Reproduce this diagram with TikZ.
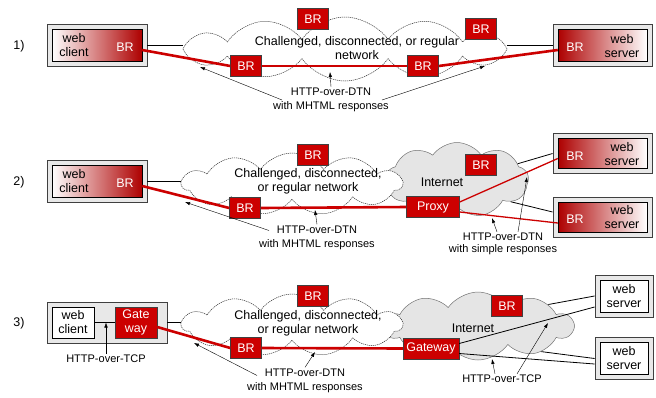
\documentclass[tikz,border=0pt]{standalone}
\usepackage{fontspec}
\setmainfont{Liberation Sans}
\usetikzlibrary{shapes.symbols,arrows.meta}
\definecolor{brred}{RGB}{204,0,0}

\begin{document}
\begin{tikzpicture}[x=1pt,y=-1pt,
	br/.style={draw=black!75,fill=brred,text=white,inner sep=0,minimum width=31pt,minimum height=21pt,font=\fontsize{12.5}{13}\selectfont},
	outbox/.style={draw=black!75,fill=black!9,line width=0.9pt,inner sep=0},
	gradc/.style={draw=black,left color=white,right color=brred!85!black,inner sep=0,minimum width=90pt,minimum height=32pt},
	grads/.style={draw=black,left color=brred!85!black,right color=white,inner sep=0,minimum width=89pt,minimum height=32pt},
	plain/.style={draw=black,fill=white,inner sep=0,minimum width=48pt,minimum height=32pt},
	net/.style={cloud,cloud puffs=11,cloud puff arc=110,cloud ignores aspect,draw=black!80,fill=white,dash pattern=on 1.2pt off 0.8pt,line width=0.5pt,inner sep=0},
	inet/.style={cloud,cloud puffs=9,cloud puff arc=110,cloud ignores aspect,draw=black!55,fill=black!10,line width=0.5pt,inner sep=0},
	big/.style={font=\fontsize{12.5}{14}\selectfont,inner sep=0},
	lbl/.style={align=center,font=\fontsize{11}{14}\selectfont,inner sep=1pt},
	dtn/.style={brred,line width=2.6pt},
	http/.style={brred,line width=1.3pt},
	link/.style={black,line width=0.8pt},
	arr/.style={-{Latex[length=5pt,width=3.5pt]},line width=0.4pt}]
	\useasboundingbox (0,0) rectangle (656,397);

	% 1) BR at both ends
	\node[big] (r1) at (19,46) {1)};
	\node[net,cloud puffs=12,minimum width=324pt,minimum height=64pt] (n1) at (345,49) {};
	\node[big,align=center] (n1t) at (357,48) {Challenged, disconnected, or regular\\network};
	\node[outbox,minimum width=100pt,minimum height=42pt] (c1o) at (97,45) {};
	\node[gradc] (c1) at (97,45) {};
	\node[big,align=center] (c1t) at (74,45) {web\\client};
	\node[big,text=white] (c1b) at (125,47) {BR};
	\node[outbox,minimum width=99pt,minimum height=42pt] (s1o) at (602.5,45) {};
	\node[grads] (s1) at (602.5,45.5) {};
	\node[big,align=center] (s1t) at (622,46) {web\\server};
	\node[big,text=white] (s1b) at (575,47) {BR};
	\node[br] (b1a) at (313,19) {BR};
	\node[br] (b1b) at (481,29) {BR};
	\node[br] (b1c) at (246,66) {BR};
	\node[br] (b1d) at (423,66) {BR};
	\node[lbl] (l1) at (331,100) {HTTP-over-DTN\\with MHTML responses};
	\coordinate (t1a) at (200,67);
	\coordinate (t1b) at (330,72);
	\coordinate (t1c) at (485,66);
	\draw[link] (c1o.east) -- (c1o.east -| n1.west);
	\draw[link] (s1o.west) -- (s1o.west -| n1.east);
	\draw[dtn] ([yshift=-5pt]c1.east) -- (b1c.west);
	\draw[dtn] (b1c.east) -- (b1d.west);
	\draw[dtn] (b1d.east) -- ([yshift=-4.5pt]s1.west);
	\draw[arr] ([xshift=10pt]l1.west) -- (t1a);
	\draw[arr] (l1.north) -- (t1b);
	\draw[arr] ([xshift=-8pt]l1.east) -- (t1c);

	% 2) proxy in the Internet
	\node[big] (r2) at (19,182) {2)};
	\node[inet,minimum width=143pt,minimum height=75pt] (i2) at (457,180) {};
	\node[net,minimum width=220pt,minimum height=62pt] (n2) at (292,184) {};
	\node[big,align=center] (n2t) at (308,181) {Challenged, disconnected,\\or regular network};
	\node[big] (i2t) at (442,182) {Internet};
	\node[outbox,minimum width=100pt,minimum height=42pt] (c2o) at (97,181) {};
	\node[gradc] (c2) at (97,181) {};
	\node[big,align=center] (c2t) at (74,181) {web\\client};
	\node[big,text=white] (c2b) at (125,183) {BR};
	\node[outbox,minimum width=99pt,minimum height=40pt] (s2ao) at (602.5,153.5) {};
	\node[grads,minimum height=30pt] (s2a) at (602.5,153.5) {};
	\node[big,align=center] (s2at) at (622,154) {web\\server};
	\node[big,text=white] (s2ab) at (575,156) {BR};
	\node[outbox,minimum width=99pt,minimum height=40pt] (s2bo) at (602.5,217) {};
	\node[grads,minimum height=30pt] (s2b) at (602.5,217) {};
	\node[big,align=center] (s2bt) at (622,217.5) {web\\server};
	\node[big,text=white] (s2bb) at (575,219.5) {BR};
	\node[br] (b2a) at (313,155) {BR};
	\node[br] (b2b) at (481,165) {BR};
	\node[br] (b2c) at (245,208) {BR};
	\node[br,minimum width=53pt] (px2) at (433,207) {Proxy};
	\node[lbl] (l2) at (317,237.5) {HTTP-over-DTN\\with MHTML responses};
	\node[lbl,font=\fontsize{11}{12}\selectfont] (l2s) at (503,244) {HTTP-over-DTN\\with simple responses};
	\coordinate (t2a) at (185,202);
	\coordinate (t2b) at (315,210);
	\coordinate (t2c) at (492,218);
	\coordinate (t2d) at (527,177);
	\draw[link] (c2o.east) -- (c2o.east -| n2.west);
	\draw[link] (i2.15) -- (s2ao.west);
	\draw[link] (i2.-22) -- ([yshift=5pt]s2bo.west);
	\draw[dtn] ([yshift=-5pt]c2.east) -- (b2c.west);
	\draw[dtn] (b2c.east) -- (px2.west);
	\draw[http] ([yshift=5pt]px2.east) -- ([yshift=-5pt]s2a.west);
	\draw[http] ([yshift=-5pt]px2.east) -- ([yshift=-6pt]s2b.west);
	\draw[arr] ([shift={(11pt,7pt)}]l2.west) -- (t2a);
	\draw[arr] (l2.north) -- (t2b);
	\draw[arr] ([xshift=-6pt]l2s.north) -- (t2c);
	\draw[arr] ([xshift=15pt]l2s.north) -- (t2d);

	% 3) gateways at both ends
	\node[big] (r3) at (19,323) {3)};
	\node[inet,cloud puffs=10,minimum width=190pt,minimum height=68pt] (i3) at (478,326) {};
	\node[net,minimum width=220pt,minimum height=62pt] (n3) at (292,325) {};
	\node[big,align=center] (n3t) at (308,323) {Challenged, disconnected,\\or regular network};
	\node[big] (i3t) at (473,328) {Internet};
	\node[outbox,minimum width=120pt,minimum height=41pt] (c3o) at (107,322.5) {};
	\node[plain,minimum width=42pt,minimum height=31pt,big,align=center] (w3) at (73,322.5) {web\\client};
	\node[br,minimum width=42pt,minimum height=31pt,align=center,font=\fontsize{12.5}{14}\selectfont] (g3) at (136,322.5) {Gate\\way};
	\node[outbox,minimum width=58pt,minimum height=42pt] (s3ao) at (624,296) {};
	\node[plain,big,align=center] (s3a) at (624,296) {web\\server};
	\node[outbox,minimum width=58pt,minimum height=42pt] (s3bo) at (624,358.5) {};
	\node[plain,big,align=center] (s3b) at (624,358.5) {web\\server};
	\node[br] (b3a) at (313,296) {BR};
	\node[br] (b3b) at (507,306) {BR};
	\node[br] (b3c) at (246,348) {BR};
	\node[br,minimum width=56pt] (gw3) at (431,348.5) {Gateway};
	\node[lbl] (tcp3a) at (106,359) {HTTP-over-TCP};
	\node[lbl] (l3) at (305,380.5) {HTTP-over-DTN\\with MHTML responses};
	\node[lbl] (tcp3b) at (502,379) {HTTP-over-TCP};
	\coordinate (t3a) at (194,343);
	\coordinate (t3b) at (315,352);
	\coordinate (t3c) at (492,359);
	\coordinate (t3d) at (548,323);
	\draw[link] (w3.east) -- (g3.west);
	\draw[link] (c3o.east) -- (c3o.east -| n3.west);
	\draw[link] (i3.17) -- (s3ao.west);
	\draw[link] (i3.-22) -- (s3bo.west);
	\draw[link] ([yshift=5pt]gw3.east) -- ([yshift=-11pt]s3ao.west);
	\draw[link] ([yshift=-5pt]gw3.east) -- ([yshift=-5.5pt]s3bo.west);
	\draw[dtn] ([yshift=-4.5pt]g3.east) -- (b3c.west);
	\draw[dtn] (b3c.east) -- (gw3.west);
	\draw[arr] (tcp3a.north) -- (tcp3a.north |- w3.east);
	\draw[arr] ([shift={(11pt,5pt)}]l3.west) -- (t3a);
	\draw[arr] (l3.north) -- (t3b);
	\draw[arr] ([xshift=-7pt]tcp3b.north) -- (t3c);
	\draw[arr] ([xshift=15pt]tcp3b.north) -- (t3d);
\end{tikzpicture}
\end{document}
